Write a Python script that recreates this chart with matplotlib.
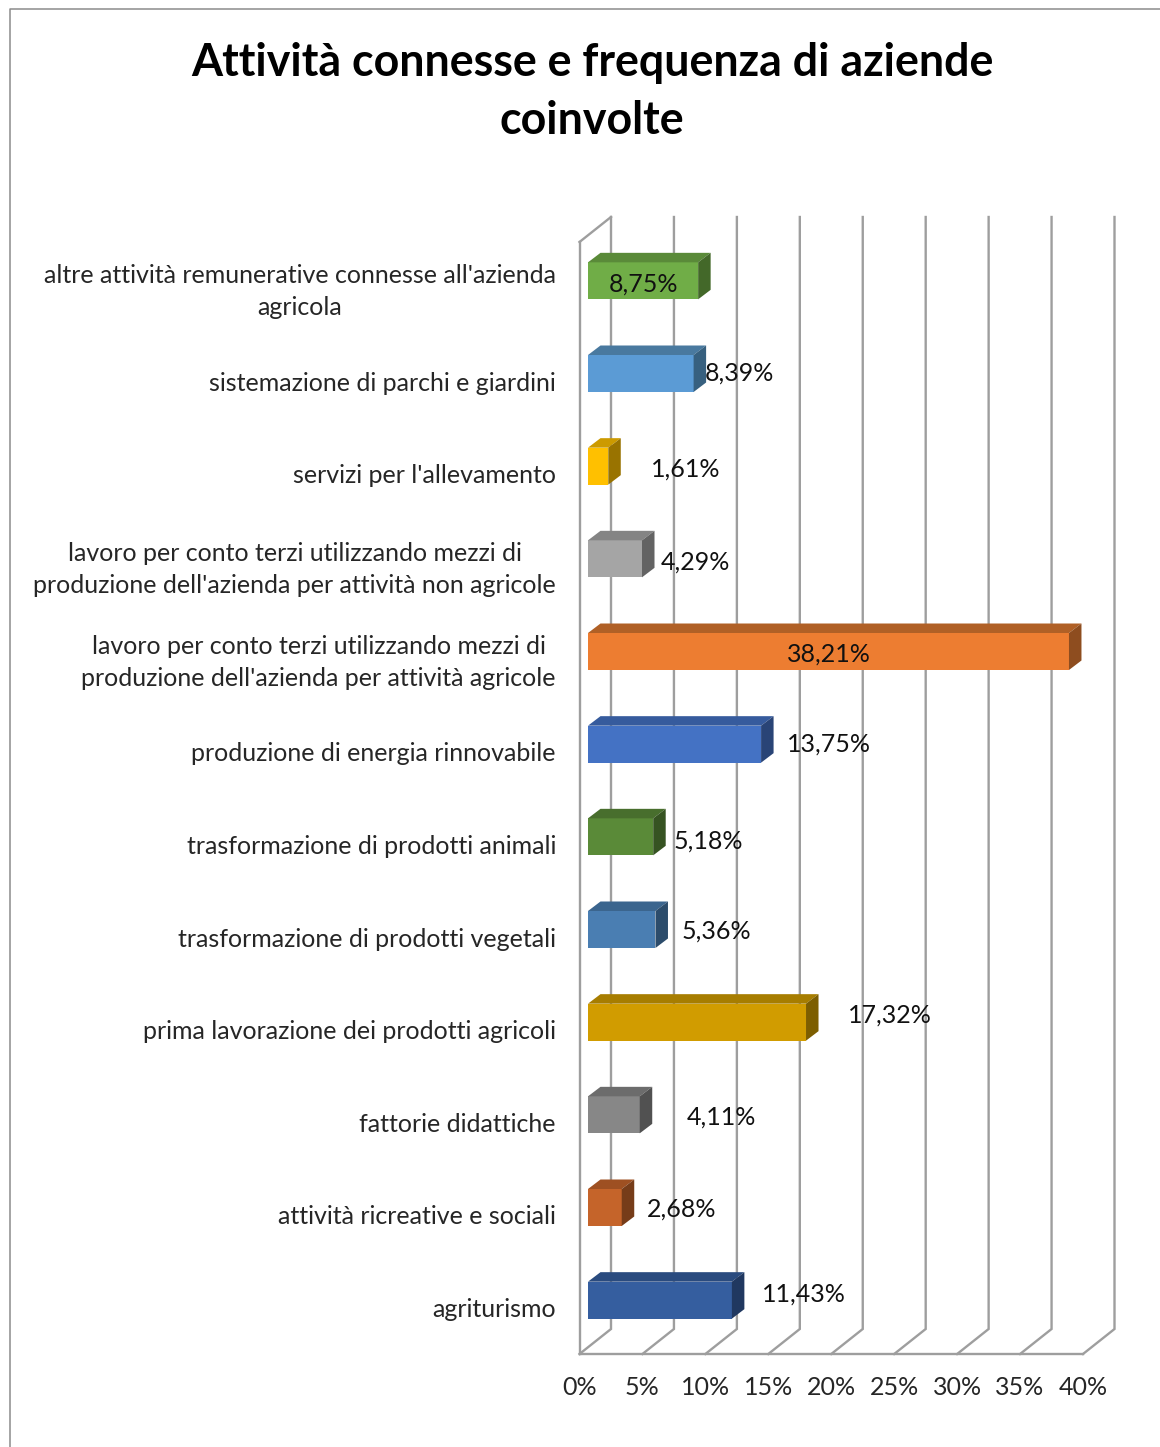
import matplotlib.pyplot as plt
from matplotlib.patches import Polygon
from matplotlib.lines import Line2D
from matplotlib.transforms import ScaledTranslation

plt.rcParams['font.family'] = ['Lato', 'DejaVu Sans']

# dati, dal basso verso l'alto
categorie = [
    'agriturismo',
    'attività ricreative e sociali',
    'fattorie didattiche',
    'prima lavorazione dei prodotti agricoli',
    'trasformazione di prodotti vegetali',
    'trasformazione di prodotti animali',
    'produzione di energia rinnovabile',
    "lavoro per conto terzi utilizzando mezzi di\nproduzione dell'azienda per attività agricole",
    "lavoro per conto terzi utilizzando mezzi di\nproduzione dell'azienda per attività non agricole",
    "servizi per l'allevamento",
    'sistemazione di parchi e giardini',
    "altre attività remunerative connesse all'azienda\nagricola",
]
valori = [11.43, 2.68, 4.11, 17.32, 5.36, 5.18, 13.75, 38.21, 4.29, 1.61, 8.39, 8.75]
etichette = ['11,43%', '2,68%', '4,11%', '17,32%', '5,36%', '5,18%',
             '13,75%', '38,21%', '4,29%', '1,61%', '8,39%', '8,75%']
colori = ['#355E9F', '#C5642A', '#878787', '#D19C00', '#4A7EB2', '#5A8A38',
          '#4472C4', '#ED7D31', '#A5A5A5', '#FFC000', '#5B9BD5', '#70AD47']
colori_top = ['#2A4B7F', '#9E5022', '#6C6C6C', '#A77D00', '#3B658E', '#486E2D',
              '#365B9D', '#B06026', '#848484', '#CC9A00', '#49799F', '#5A8A39']
colori_lato = ['#203860', '#763C19', '#515151', '#7D5E00', '#2C4C6B', '#365322',
               '#294476', '#8E4D1F', '#636363', '#997300', '#37607F', '#436829']
tick_x = [0, 5, 10, 15, 20, 25, 30, 35, 40]
tick_lab = ['0%', '5%', '10%', '15%', '20%', '25%', '30%', '35%', '40%']

# centri delle etichette dati, in pixel dell'immagine
lab_px = [804, 682, 721, 890, 716, 708, 829, 829, 695, 686, 739, 644]
lab_py = [1294, 1209, 1117, 1015, 931, 841, 744, 654, 562, 469, 373, 284]

W, H = 1160, 1447
fig = plt.figure(figsize=(W / 100, H / 100), dpi=100, facecolor='white')
ax = fig.add_axes([579.5 / W, 1 - 1354 / H, 503.5 / W, 1112 / H])
ax.set_xlim(0, 40)
ax.set_ylim(-0.5, 11.5)

sx = 503.5 / 40        # pixel per 1%
sy = 1112 / 12         # pixel per categoria
grigio = '#9E9E9E'
lw = 1.7

# pareti: griglia sul fondo e diagonali sul pavimento
wx, wy = 31.5 / sx, 25 / sy
for t in tick_x:
    ax.plot([t, t + wx, t + wx], [-0.5, -0.5 + wy, 11.5 + wy], color=grigio, lw=lw,
            clip_on=False, zorder=1, solid_joinstyle='miter')
ax.plot([0, wx], [11.5, 11.5 + wy], color=grigio, lw=lw, clip_on=False, zorder=1)

# barre in finto 3D
x0, y0 = 8.5 / sx, 7.5 / sy
dx, dy = 12.5 / sx, 9.5 / sy
alt = 37 / sy
for i, v in enumerate(valori):
    yb = i + y0 - alt / 2
    yt = i + y0 + alt / 2
    xr = x0 + v
    ax.barh(i + y0, v, height=alt, left=x0, color=colori[i], zorder=3, linewidth=0)
    ax.add_patch(Polygon([(x0, yt), (x0 + dx, yt + dy), (xr + dx, yt + dy), (xr, yt)],
                         facecolor=colori_top[i], edgecolor='none', zorder=3))
    ax.add_patch(Polygon([(xr, yb), (xr + dx, yb + dy), (xr + dx, yt + dy), (xr, yt)],
                         facecolor=colori_lato[i], edgecolor='none', zorder=3))

for s in ['top', 'right']:
    ax.spines[s].set_visible(False)
for s in ['left', 'bottom']:
    ax.spines[s].set_color(grigio)
    ax.spines[s].set_linewidth(lw)
    ax.spines[s].set_zorder(2)

ax.set_xticks(tick_x)
ax.set_xticklabels(tick_lab, fontsize=18, color='#262626')
ax.set_yticks(range(len(categorie)))
ax.set_yticklabels(categorie, fontsize=18, color='#262626', linespacing=1.46,
                   multialignment='center')
ax.tick_params(axis='x', length=0, pad=16)
ax.tick_params(axis='y', length=0, pad=17)

# le etichette su due righe stanno 3 px piu' in alto
su = ScaledTranslation(0, 3 / 100, fig.dpi_scale_trans)
for lab in ax.get_yticklabels():
    if '\n' in lab.get_text():
        lab.set_transform(lab.get_transform() + su)

for px, py, s in zip(lab_px, lab_py, etichette):
    fig.text(px / W, 1 - py / H, s, ha='center', va='center', fontsize=18,
             color='#111111', zorder=5)

fig.text(592 / W, 1 - 92 / H, 'Attività connesse e frequenza di aziende\ncoinvolte',
         ha='center', va='center', fontsize=32.2, fontweight='bold', color='black',
         linespacing=1.46)

# cornice del grafico
fig.add_artist(Line2D([10 / W, 10 / W, 1], [0, 1 - 9 / H, 1 - 9 / H], color='#8C8C8C', lw=1.1))

fig.savefig('out.png', dpi=100)
